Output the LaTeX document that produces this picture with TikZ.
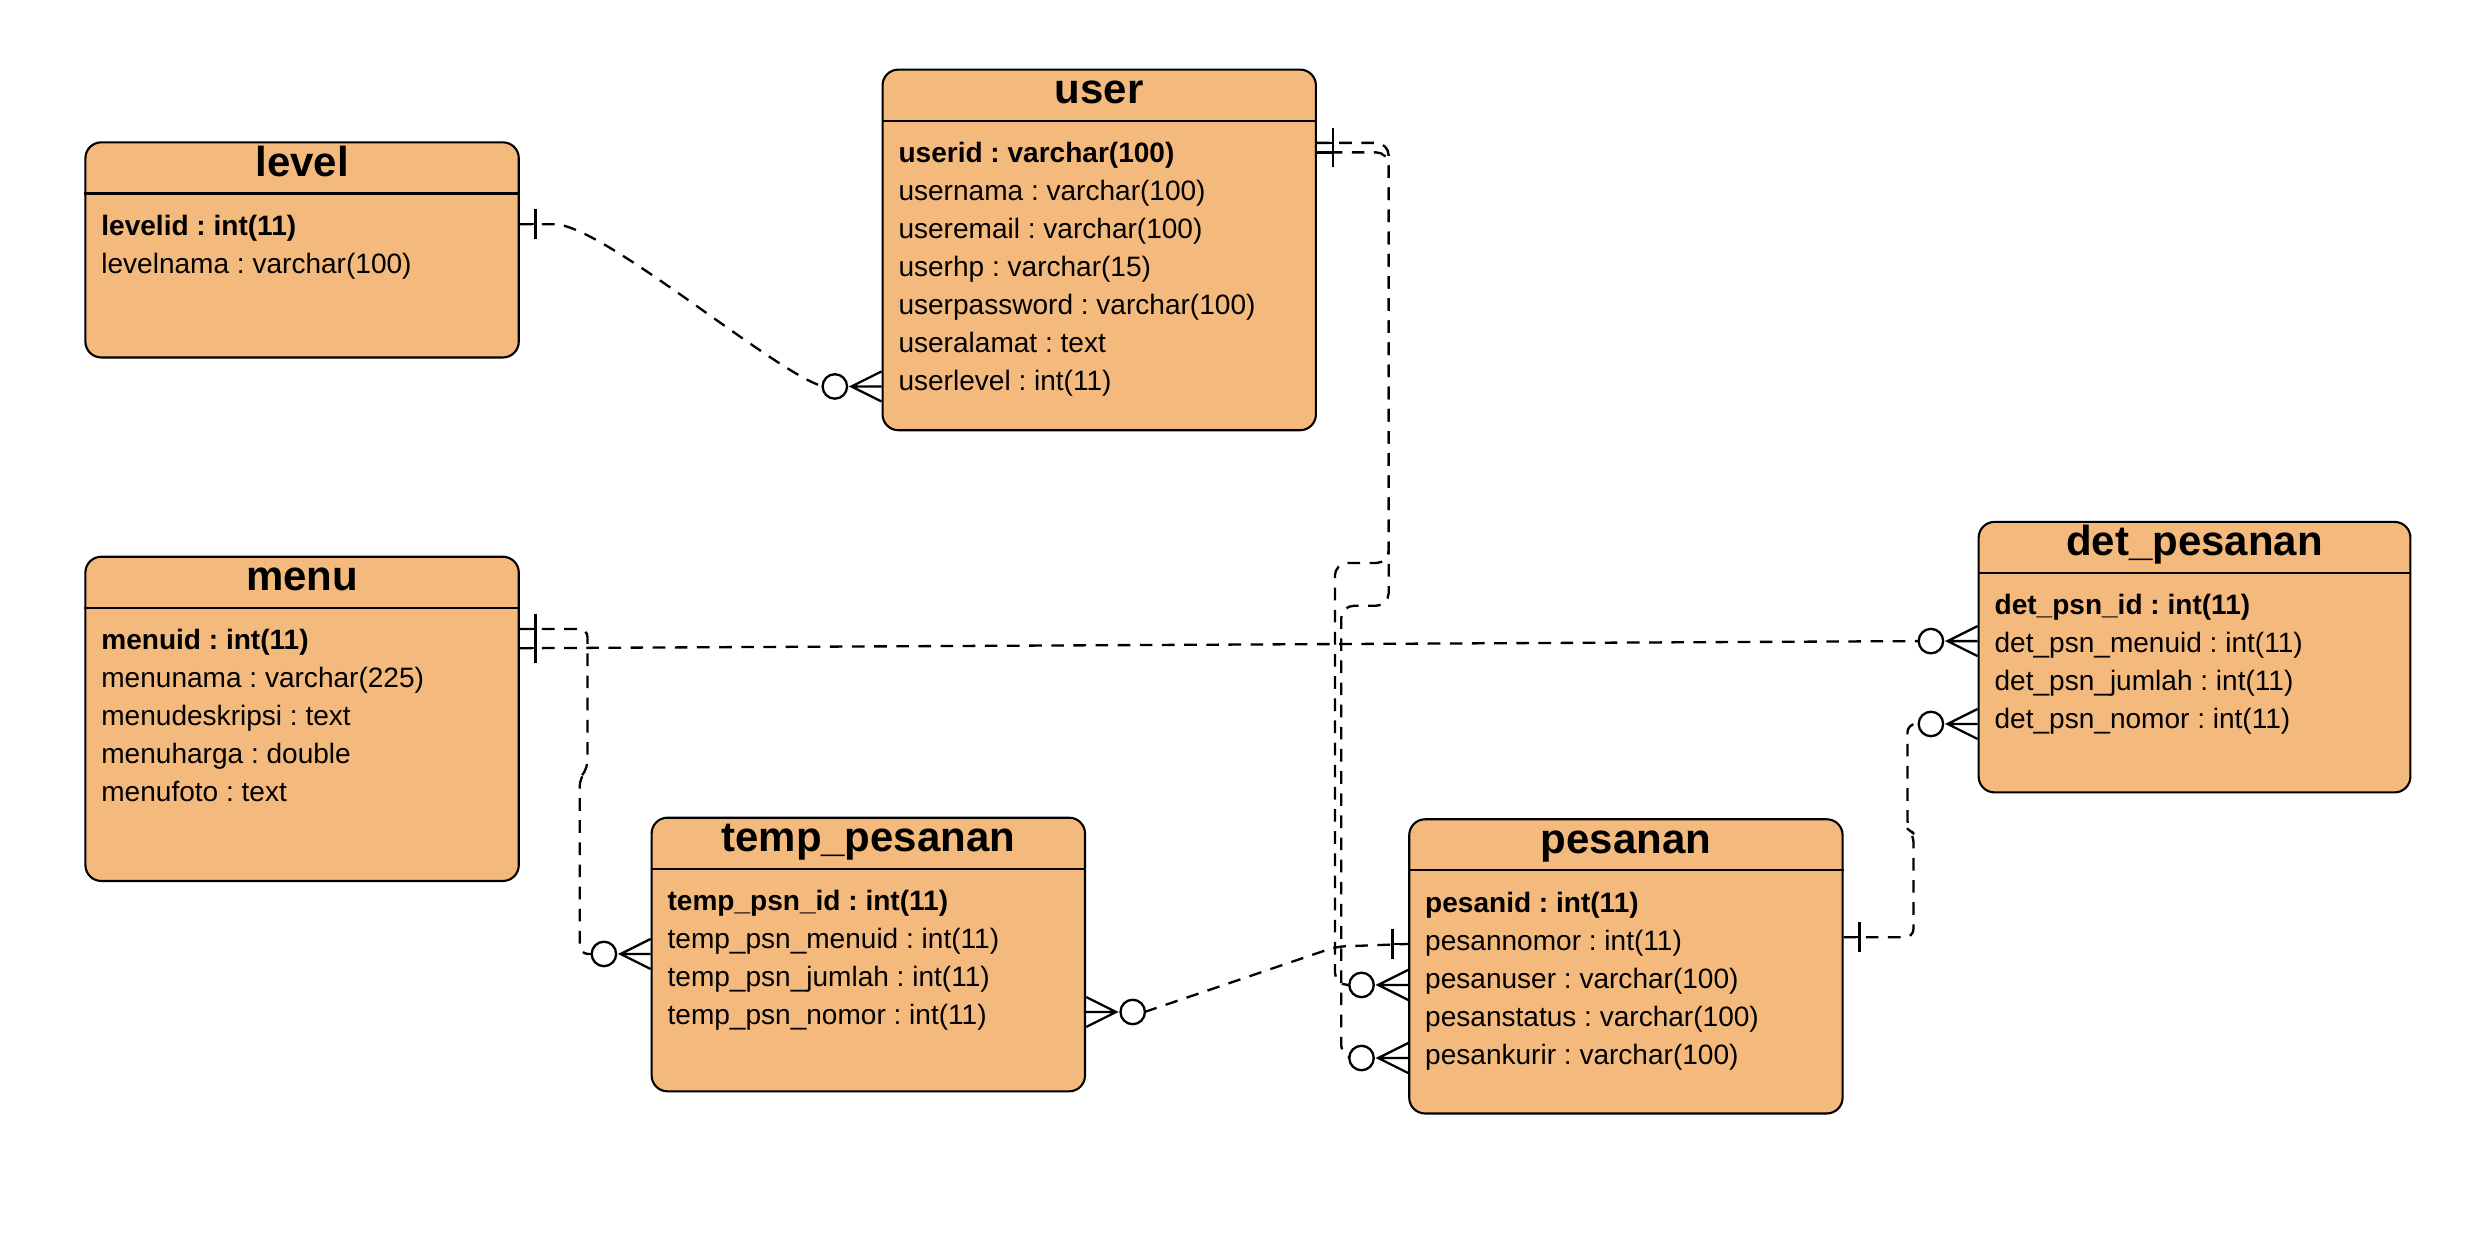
\documentclass[tikz,border=0pt]{standalone}
\usepackage{fontspec}
\setmainfont{Liberation Sans}
\usetikzlibrary{calc}
\frenchspacing

\definecolor{tblfill}{RGB}{244,185,124}

\begin{document}
\begin{tikzpicture}[x=0.75pt,y=0.75pt,yscale=-1,xscale=1,
  tbl/.style={draw, line width=1pt, fill=tblfill, rounded corners=7.5pt, minimum width=205.5pt, inner sep=0pt},
  ttl/.style={anchor=base, inner sep=0pt, font=\fontsize{19.9}{24}\selectfont\bfseries},
  row/.style={anchor=base west, inner sep=0pt, font=\fontsize{13.3}{16}\selectfont},
  conn/.style={line width=1.1pt, dash pattern=on 6pt off 4.5pt},
  one/.pic={\draw[line width=1.1pt] (0,0) -- (10,0) (10,-9.5) -- (10,9.5);},
  zmany/.pic={\draw[line width=1.1pt] (0,-9.5) -- (19,0) -- (0,9.5) (0,0) -- (19,0);
    \draw[line width=1.1pt, fill=white] (29.5,0) circle[radius=5.8pt];}
]
\useasboundingbox (0,0) rectangle (1568,786.5);

% Entity level
\node[tbl, minimum height=102pt] (level) at (191,158) {};
\draw[line width=1pt] ($(level.north west)+(0,33)$) -- ($(level.north east)+(0,33)$);
\node[ttl] (level-t) at ($(level.north)+(0,22)$) {level};
\node[row] (level-r1) at ($(level.north west)+(10.5,59.5)$) {\textbf{levelid : int(11)}};
\node[row] (level-r2) at ($(level-r1.base west)+(0,24)$) {levelnama : varchar(100)};

% Entity user
\node[tbl, minimum height=171pt] (user) at (695,158) {};
\draw[line width=1pt] ($(user.north west)+(0,33)$) -- ($(user.north east)+(0,33)$);
\node[ttl] (user-t) at ($(user.north)+(0,22)$) {user};
\node[row] (user-r1) at ($(user.north west)+(10.5,59.5)$) {\textbf{userid : varchar(100)}};
\node[row] (user-r2) at ($(user-r1.base west)+(0,24)$) {usernama : varchar(100)};
\node[row] (user-r3) at ($(user-r2.base west)+(0,24)$) {useremail : varchar(100)};
\node[row] (user-r4) at ($(user-r3.base west)+(0,24)$) {userhp : varchar(15)};
\node[row] (user-r5) at ($(user-r4.base west)+(0,24)$) {userpassword : varchar(100)};
\node[row] (user-r6) at ($(user-r5.base west)+(0,24)$) {useralamat : text};
\node[row] (user-r7) at ($(user-r6.base west)+(0,24)$) {userlevel : int(11)};

% Entity menu
\node[tbl, minimum height=153.75pt] (menu) at (191,454.5) {};
\draw[line width=1pt] ($(menu.north west)+(0,33)$) -- ($(menu.north east)+(0,33)$);
\node[ttl] (menu-t) at ($(menu.north)+(0,22)$) {menu};
\node[row] (menu-r1) at ($(menu.north west)+(10.5,59.5)$) {\textbf{menuid : int(11)}};
\node[row] (menu-r2) at ($(menu-r1.base west)+(0,24)$) {menunama : varchar(225)};
\node[row] (menu-r3) at ($(menu-r2.base west)+(0,24)$) {menudeskripsi : text};
\node[row] (menu-r4) at ($(menu-r3.base west)+(0,24)$) {menuharga : double};
\node[row] (menu-r5) at ($(menu-r4.base west)+(0,24)$) {menufoto : text};

% Entity temp_pesanan
\node[tbl, minimum height=129.75pt] (temp) at (549,603.5) {};
\draw[line width=1pt] ($(temp.north west)+(0,33)$) -- ($(temp.north east)+(0,33)$);
\node[ttl] (temp-t) at ($(temp.north)+(0,22)$) {temp\_pesanan};
\node[row] (temp-r1) at ($(temp.north west)+(10.5,59.5)$) {\textbf{temp\_psn\_id : int(11)}};
\node[row] (temp-r2) at ($(temp-r1.base west)+(0,24)$) {temp\_psn\_menuid : int(11)};
\node[row] (temp-r3) at ($(temp-r2.base west)+(0,24)$) {temp\_psn\_jumlah : int(11)};
\node[row] (temp-r4) at ($(temp-r3.base west)+(0,24)$) {temp\_psn\_nomor : int(11)};

% Entity pesanan
\node[tbl, minimum height=139.5pt] (pesanan) at (1028,611) {};
\draw[line width=1pt] ($(pesanan.north west)+(0,33)$) -- ($(pesanan.north east)+(0,33)$);
\node[ttl] (pesanan-t) at ($(pesanan.north)+(0,22)$) {pesanan};
\node[row] (pesanan-r1) at ($(pesanan.north west)+(10.5,59.5)$) {\textbf{pesanid : int(11)}};
\node[row] (pesanan-r2) at ($(pesanan-r1.base west)+(0,24)$) {pesannomor : int(11)};
\node[row] (pesanan-r3) at ($(pesanan-r2.base west)+(0,24)$) {pesanuser : varchar(100)};
\node[row] (pesanan-r4) at ($(pesanan-r3.base west)+(0,24)$) {pesanstatus : varchar(100)};
\node[row] (pesanan-r5) at ($(pesanan-r4.base west)+(0,24)$) {pesankurir : varchar(100)};

% Entity det_pesanan
\node[tbl, minimum width=204.75pt, minimum height=128.25pt] (det) at (1387.5,415.5) {};
\draw[line width=1pt] ($(det.north west)+(0,33)$) -- ($(det.north east)+(0,33)$);
\node[ttl] (det-t) at ($(det.north)+(0,22)$) {det\_pesanan};
\node[row] (det-r1) at ($(det.north west)+(10.5,59.5)$) {\textbf{det\_psn\_id : int(11)}};
\node[row] (det-r2) at ($(det-r1.base west)+(0,24)$) {det\_psn\_menuid : int(11)};
\node[row] (det-r3) at ($(det-r2.base west)+(0,24)$) {det\_psn\_jumlah : int(11)};
\node[row] (det-r4) at ($(det-r3.base west)+(0,24)$) {det\_psn\_nomor : int(11)};

% Connection level - user
\draw[conn] ($(level.north east)+(0,52.5)$) -- ++(22,0) .. controls +(30,0) and +(-31,-9) .. ($(user.north west)+(-37,201)$);
\pic at ($(level.north east)+(0,52.5)$) {one};
\pic[rotate=180] at ($(user.north west)+(0,201)$) {zmany};

% Connection user - pesanan
\draw[conn, rounded corners=6pt] ($(user.north east)+(0,47)$) -| (878,356) -- (844,356) |- ($(pesanan.north west)+(-37,105.4)$);
\draw[conn, dash phase=4.5pt, rounded corners=6pt] ($(user.north east)+(0,53)$) -| (878,383) -- (848,383) |- ($(pesanan.north west)+(-37,151.6)$);
\pic at ($(user.north east)+(0,47)$) {one};
\pic at ($(user.north east)+(0,53)$) {one};
\pic[rotate=180] at ($(pesanan.north west)+(0,105.4)$) {zmany};
\pic[rotate=180] at ($(pesanan.north west)+(0,151.6)$) {zmany};

% Connection menu - det_pesanan
\draw[conn] ($(menu.north east)+(0,58.5)$) -- ($(det.north west)+(-37,76)$);
\pic at ($(menu.north east)+(0,58.5)$) {one};
\pic[rotate=180] at ($(det.north west)+(0,76)$) {zmany};

% Connection menu - temp_pesanan
\draw[conn, rounded corners=4pt] ($(menu.north east)+(0,46.3)$) -| (371.5,486) -- (366.5,492) |- ($(temp.north west)+(-37,86.8)$);
\pic at ($(menu.north east)+(0,46.3)$) {one};
\pic[rotate=180] at ($(temp.north west)+(0,86.8)$) {zmany};

% Connection temp_pesanan - pesanan
\draw[conn, rounded corners=4pt] ($(temp.north east)+(37,123.5)$) -- (845,598.5) -- ($(pesanan.north west)+(0,79.5)$);
\pic at ($(temp.north east)+(0,123.5)$) {zmany};
\pic[rotate=180] at ($(pesanan.north west)+(0,79.5)$) {one};

% Connection pesanan - det_pesanan
\draw[conn, rounded corners=4pt] ($(pesanan.north east)+(0,75.3)$) -| (1209.8,527) -- (1206,524) |- ($(det.north west)+(-37,128.4)$);
\pic at ($(pesanan.north east)+(0,75.3)$) {one};
\pic[rotate=180] at ($(det.north west)+(0,128.4)$) {zmany};

\end{tikzpicture}
\end{document}
